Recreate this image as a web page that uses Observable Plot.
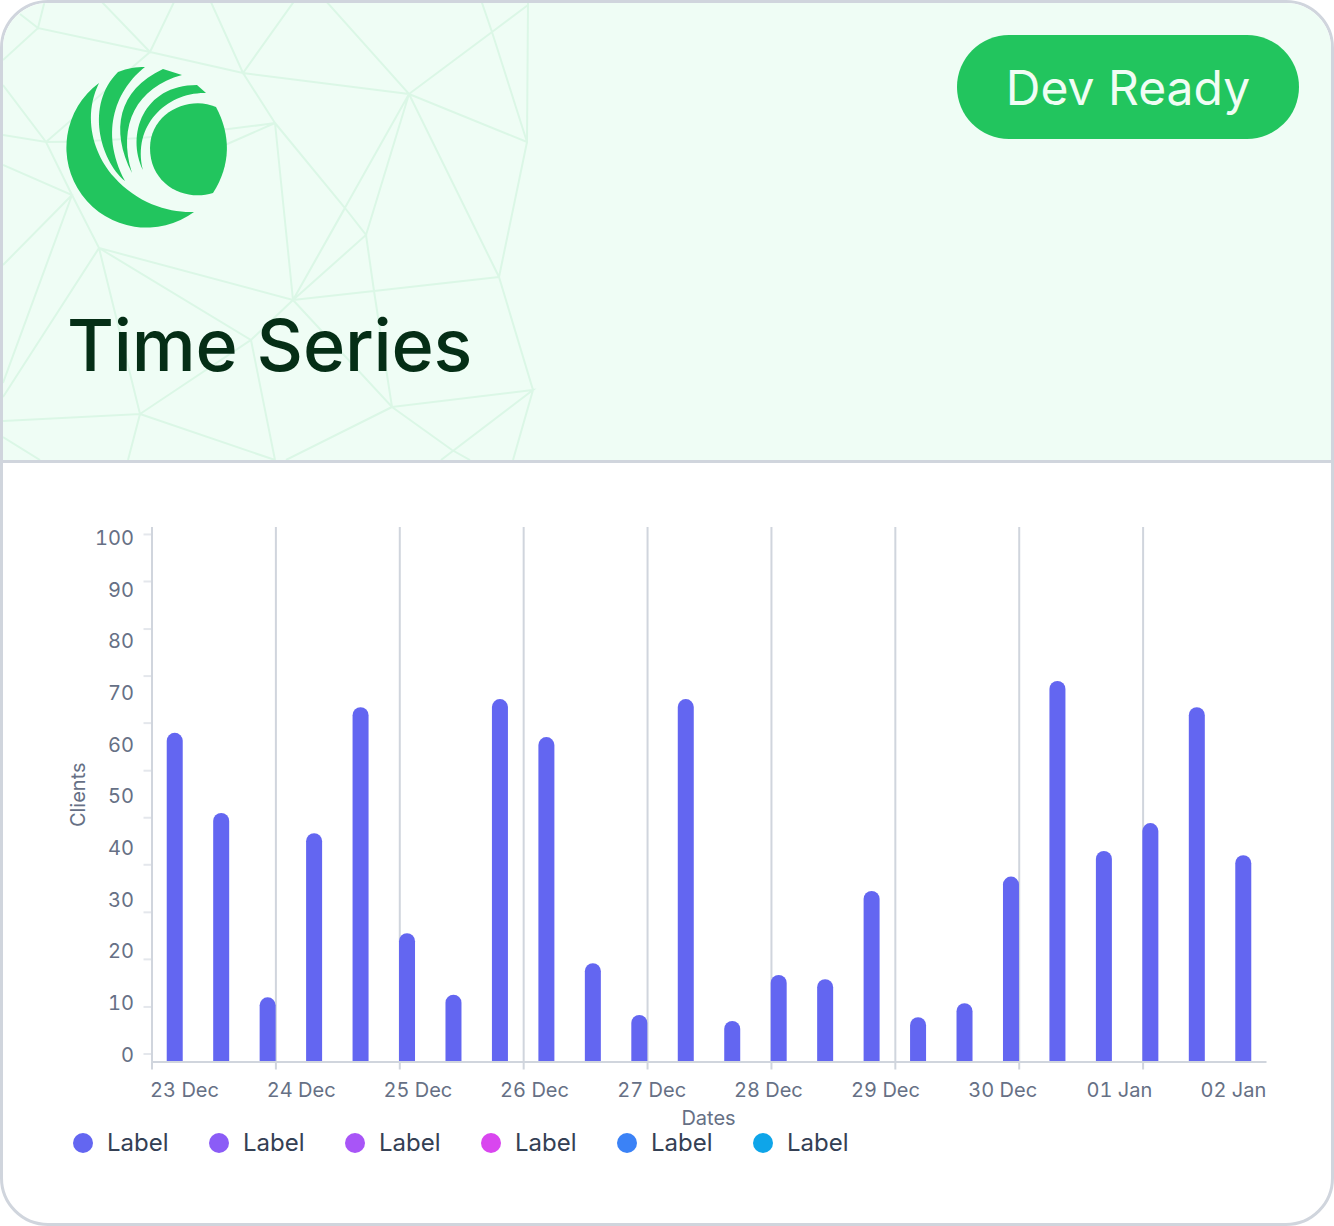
<!DOCTYPE html>
<html><head><meta charset="utf-8">
<script src="https://cdn.jsdelivr.net/npm/d3@7"></script>
<script src="https://cdn.jsdelivr.net/npm/@observablehq/plot@0.6"></script>
<style>
html,body{margin:0;padding:0;background:#fff;overflow:hidden;font-family:Inter,sans-serif}
#card{position:relative;width:1334px;height:1226px;box-sizing:border-box;border:3px solid #D0D5DD;border-radius:48px;overflow:hidden;background:#fff}
#head{position:absolute;left:-3px;top:-3px;width:1334px;height:460px;background:#EFFDF5;border-bottom:3px solid #D0D5DD;box-sizing:content-box}
#head svg{position:absolute;left:0;top:0}
#title{position:absolute;left:67px;top:301px;font-size:72px;font-weight:500;letter-spacing:-.2px;line-height:88px;color:#052E16;white-space:nowrap}
#pill{position:absolute;left:957px;top:35px;width:342px;height:104px;border-radius:52px;background:#22C55E;color:#F0FDF4;font-size:48px;line-height:106px;text-align:center}
#plot{position:absolute;left:-3px;top:497px}
#plot svg{max-width:none}
#legend{position:absolute;left:70px;top:1122px;display:flex;font-size:24px;line-height:36px;color:#344054}
#legend div{width:136px;display:flex;align-items:center}
#legend i{display:block;width:20px;height:20px;border-radius:50%;margin-right:14px}
</style></head><body>
<div id="card">
<div id="head">
<svg width="1334" height="460" fill="none" stroke="#DBF7E6" stroke-width="2">
<path d="M3 60L38 28L150 52L243 73L409 94L527 142L528 3M20 14L38 28L45 0M100 0L150 52L175 0M210 0L243 73L295 0M325 0L409 94L492 32L528 5M481 0L492 32L527 142L499 277L533 390L513 460M243 73L275 123L293 300M275 123L345 208L366 235L293 300M150 52L46 142L3 135M46 142Q140 142 275 123L225 145M3 85L46 142L72 195L99 248L293 300L374 291L499 277M409 94L499 277M409 94L366 235L374 291L392 407M409 94L293 300L345 208M3 165L72 195L3 265M72 195L3 383M99 248L3 397M99 248L251 340L293 300L392 407L533 390L441 460M99 248L140 414L251 340L275 460M3 421L140 414L128 460M140 414L275 460M392 407L286 460M392 407L452 450L470 460M3 437L40 460"/>
<g fill="#22C55E" stroke="none">
<path d="M99 83A80 80 0 1 0 194 212C170 213 138 204 114 177C94 155 82 118 99 83Z"/>
<path d="M125 181C100 160 85 105 118 72C128 68 136 67 145 67C118 88 98 130 125 181Z"/>
<path d="M132 173C110 130 118 90 163 69L182 75C137 87 117 125 132 173Z"/>
<path d="M143 170C126 135 143 85 197 85L206 93C167 92 132 125 143 170Z"/>
<path d="M216 107C231 135 231 165 213 193C185 202 150 185 150 148C150 112 190 95 216 107Z"/>
</g>
</svg>
<div id="title">Time Series</div>
<div id="pill">Dev Ready</div>
</div>
<div id="plot"></div>
<div id="legend"></div>
</div>
<script>
// one bar every nine hours from 23 Dec
const hoursFromStart = [0,9,18,27,36,45,54,63,72,81,90,99,108,117,126,135,144,153,162,171,180,189,198,207];
const clients = [61.5,46.5,12,42.7,66.3,24,12.5,67.8,60.7,18.4,8.7,67.8,7.6,16.2,15.4,31.9,8.3,10.9,34.6,71.2,39.4,44.6,66.3,38.6];
const dayTicks = [0,1,2,3,4,5,6,7,8];
const dateLabels = ["23 Dec","24 Dec","25 Dec","26 Dec","27 Dec","28 Dec","29 Dec","30 Dec","01 Jan","02 Jan"];
const dateLabelHours = [6.3,28.9,51.5,74.1,96.8,119.4,142.1,164.8,187.4,209.5];
const yLabels = ["0","10","20","30","40","50","60","70","80","90","100"];
const yLabelValues = [1.4,11.1,20.8,30.4,40.1,49.8,59.4,69.1,78.8,88.4,98.1];
const yTickValues = [1.5,10.3,19.2,28,36.9,45.7,54.5,63.4,72.2,81,89.9,98.7];
const legendLabels = ["Label","Label","Label","Label","Label","Label"];
const legendColors = ["#6366F1","#8B5CF6","#A855F7","#D946EF","#3B82F6","#0EA5E9"];

const start = Date.UTC(2023,11,23);
const H = 3600e3;
const t = h => new Date(start + h*H);
const bars = hoursFromStart.map((h,i)=>({x1:t(h+2.95),x2:t(h+6.05),v:clients[i]}));
const axisColor = "#D0D5DD";
const fig = Plot.plot({
  width:1334,height:640,marginLeft:151.5,marginRight:67.5,marginTop:27,marginBottom:78.5,
  style:{fontFamily:"Inter, sans-serif",fontSize:"20px",background:"transparent",overflow:"visible"},
  x:{type:"utc",domain:[t(0),t(216)],axis:null},
  y:{domain:[0,100],axis:null},
  marks:[
    Plot.ruleX(dayTicks.map(d=>t(d*24)),{stroke:axisColor,strokeWidth:2,strokeOpacity:1}),
    Plot.axisX({ticks:dayTicks.map(d=>t(d*24)),tickFormat:()=>"",tickSize:8,stroke:axisColor,strokeWidth:2,label:null}),
    Plot.axisX({ticks:dateLabelHours.map(t),tickFormat:(d,i)=>dateLabels[i],tickSize:0,tickPadding:21,fill:"#667085",fontSize:20,label:null}),
    Plot.axisY({ticks:yTickValues,tickFormat:()=>"",tickSize:8,stroke:"#E4E7EC",strokeWidth:2,label:null}),
    Plot.axisY({ticks:yLabelValues,tickFormat:(d,i)=>yLabels[i],tickSize:0,tickPadding:18,dy:1,fill:"#667085",fontSize:20,label:null}),
    Plot.rectY(bars,{x1:"x1",x2:"x2",y1:0,y2:"v",fill:"#6366F1",ry2:8,rx:0}),
    Plot.ruleY([0],{stroke:axisColor,strokeWidth:2}),
    Plot.ruleX([t(0)],{stroke:axisColor,strokeWidth:2}),
    Plot.text(["Dates"],{frameAnchor:"bottom",dy:63,dx:-1,fill:"#667085",fontSize:20}),
    Plot.text(["Clients"],{frameAnchor:"left",dx:-73,rotate:-90,textAnchor:"middle",fill:"#667085",fontSize:20})
  ]
});
document.getElementById("plot").append(fig);
const lg=document.getElementById("legend");
legendLabels.forEach((l,i)=>{const d=document.createElement("div");d.innerHTML=`<i style="background:${legendColors[i]}"></i><span>${l}</span>`;lg.append(d);});
</script>
</body></html>
